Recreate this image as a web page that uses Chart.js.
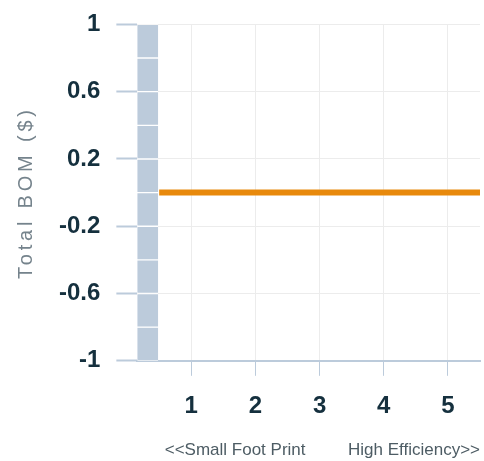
<!DOCTYPE html>
<html>
<head>
<meta charset="utf-8">
<script src="https://cdn.jsdelivr.net/npm/chart.js@4/dist/chart.umd.min.js"></script>
<style>
  html, body { margin: 0; padding: 0; background: #fff; }
  #wrap { width: 484px; height: 461px; }
</style>
</head>
<body>
<div id="wrap"><canvas id="chart"></canvas></div>
<script>
// values
const xTickValues = [1, 2, 3, 4, 5];
const yTickValues = [-1, -0.6, -0.2, 0.2, 0.6, 1];
const bandEdges = [-1, -0.8, -0.6, -0.4, -0.2, 0, 0.2, 0.4, 0.6, 0.8, 1];
const bandX = 0.32;
const lineX = [0.5, 5.5];
const lineY = [0, 0];

const bandData = [];
for (let i = 0; i < bandEdges.length - 1; i++) {
  bandData.push({ x: bandX, y: [bandEdges[i], bandEdges[i + 1]] });
}
const lineData = lineX.map((x, i) => ({ x: x, y: lineY[i] }));

// y title is drawn letter-spaced in the original
const spacedTitle = {
  id: 'spacedTitle',
  beforeDraw(chart) {
    const s = chart.scales.y;
    if (s.drawTitle.spaced) return;
    const orig = s.drawTitle;
    const f = function () {
      this.ctx.save();
      this.ctx.letterSpacing = '3.8px';
      orig.call(this);
      this.ctx.restore();
    };
    f.spaced = true;
    s.drawTitle = f;
  }
};

const ctx = document.getElementById('chart').getContext('2d');
new Chart(ctx, {
  data: {
    datasets: [{
      type: 'line',
      data: lineData,
      borderColor: '#e8890c',
      borderWidth: 6,
      pointRadius: 0,
      borderCapStyle: 'butt'
    }, {
      type: 'bar',
      data: bandData,
      backgroundColor: '#bccbdb',
      borderColor: '#ffffff',
      borderWidth: { top: 1, bottom: 1, left: 0, right: 0 },
      borderSkipped: false,
      barThickness: 21
    }]
  },
  options: {
    responsive: true,
    maintainAspectRatio: false,
    animation: false,
    layout: { padding: { top: 0, right: 4, left: 14, bottom: 0 } },
    plugins: {
      legend: { display: false },
      tooltip: { enabled: false }
    },
    scales: {
      x: {
        type: 'linear',
        offset: false,
        min: 0.16,
        max: 5.5,
        afterBuildTicks: s => { s.ticks = xTickValues.map(v => ({ value: v })); },
        grid: { offset: false, color: '#ececec', tickColor: '#bccbdb', tickLength: 15 },
        border: { display: true, color: '#bccbdb', width: 2 },
        ticks: {
          padding: 16,
          color: '#15303e',
          font: { family: 'Liberation Sans', size: 24, weight: 'bold' }
        },
        title: {
          display: true,
          text: '<<Small Foot Print         High Efficiency>>',
          align: 'end',
          color: '#4d5c64',
          font: { family: 'Liberation Sans', size: 17 },
          padding: { top: 4, bottom: 0 }
        }
      },
      y: {
        type: 'linear',
        min: -1,
        max: 1,
        afterBuildTicks: s => { s.ticks = yTickValues.map(v => ({ value: v })); },
        grid: { color: '#ececec', tickColor: '#bccbdb', tickLength: 21, lineWidth: 1, tickWidth: 2 },
        border: { display: false },
        ticks: {
          padding: 16,
          color: '#15303e',
          font: { family: 'Liberation Sans', size: 24, weight: 'bold', lineHeight: 0.7 },
          callback: v => String(v)
        },
        title: {
          display: true,
          text: 'Total BOM ($)',
          color: '#75838c',
          font: { family: 'Liberation Sans', size: 20 },
          padding: { top: 0, bottom: 5 }
        }
      }
    }
  },
  plugins: [spacedTitle]
});
</script>
</body>
</html>
